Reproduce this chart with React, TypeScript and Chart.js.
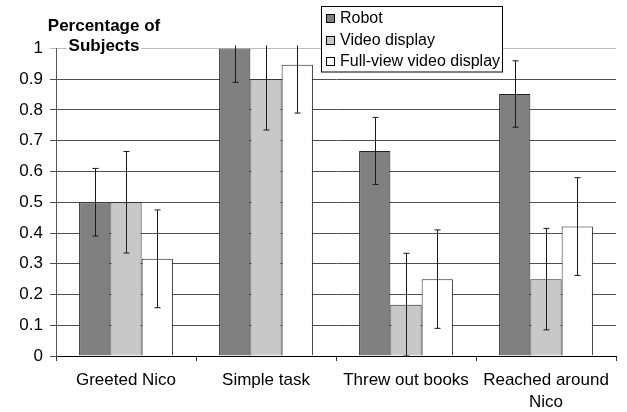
import React, { useEffect, useRef } from "react";
import { Chart, registerables } from "chart.js";

Chart.register(...registerables);

const categories: (string | string[])[] = [
  "Greeted Nico",
  "Simple task",
  "Threw out books",
  ["Reached around", "Nico"],
];
const seriesNames = ["Robot", "Video display", "Full-view video display"];
const robot = [0.5, 1.0, 0.667, 0.852];
const video = [0.5, 0.9, 0.167, 0.25];
const fullView = [0.316, 0.947, 0.25, 0.421];
const robotErr = [0.11, 0.11, 0.109, 0.108];
const videoErr = [0.165, 0.165, 0.167, 0.165];
const fullViewErr = [0.159, 0.157, 0.16, 0.159];
const yTicks = [0, 0.1, 0.2, 0.3, 0.4, 0.5, 0.6, 0.7, 0.8, 0.9, 1];
const yTitle = ["Percentage of", "Subjects"];

const FONT = "'Liberation Sans', Arial, sans-serif";
const fills = ["#808080", "#c8c8c8", "#ffffff"];
const errors = [robotErr, videoErr, fullViewErr];

const errorBarPlugin = {
  id: "errorBars",
  afterDatasetsDraw(chart: any) {
    const ctx = chart.ctx;
    const y = chart.scales.y;
    const area = chart.chartArea;
    ctx.save();
    ctx.beginPath();
    ctx.rect(area.left, area.top - 3, area.right - area.left, area.bottom - area.top + 6);
    ctx.clip();
    ctx.strokeStyle = "#1a1a1a";
    ctx.lineWidth = 1;
    chart.data.datasets.forEach((ds: any, i: number) => {
      const meta = chart.getDatasetMeta(i);
      meta.data.forEach((el: any, j: number) => {
        const v = ds.data[j];
        const e = errors[i][j];
        const x = Math.round(el.x) + 0.5;
        const yHi = y.getPixelForValue(v + e);
        const yLo = y.getPixelForValue(v - e);
        ctx.beginPath();
        ctx.moveTo(x, yHi);
        ctx.lineTo(x, yLo);
        ctx.moveTo(x - 3, yHi);
        ctx.lineTo(x + 3, yHi);
        ctx.moveTo(x - 3, yLo);
        ctx.lineTo(x + 3, yLo);
        ctx.stroke();
      });
    });
    ctx.restore();
  },
  afterDraw(chart: any) {
    const ctx = chart.ctx;
    ctx.save();
    // axis title
    ctx.font = `bold 17px ${FONT}`;
    ctx.textAlign = "center";
    ctx.textBaseline = "middle";
    const tx = 104;
    const w2 = ctx.measureText(yTitle[1]).width;
    ctx.fillStyle = "#ffffff";
    ctx.fillRect(tx - w2 / 2 - 2, 38, w2 + 4, 16);
    ctx.fillStyle = "#000000";
    ctx.fillText(yTitle[0], tx, 26);
    ctx.fillText(yTitle[1], tx, 46);
    // legend
    const lx = 321.5, ly = 6.5, lw = 181, lh = 65.5;
    ctx.fillStyle = "#ffffff";
    ctx.fillRect(lx, ly, lw, lh);
    ctx.strokeStyle = "#000000";
    ctx.lineWidth = 1;
    ctx.strokeRect(lx, ly, lw, lh);
    ctx.font = `16px ${FONT}`;
    ctx.textAlign = "left";
    seriesNames.forEach((name, i) => {
      const cy = 19 + i * 21.5;
      ctx.fillStyle = fills[i];
      ctx.fillRect(326.5, Math.round(cy) - 4.5, 8, 8);
      ctx.strokeStyle = "#000000";
      ctx.strokeRect(326.5, Math.round(cy) - 4.5, 8, 8);
      ctx.fillStyle = "#000000";
      ctx.fillText(name, 340, cy);
    });
    ctx.restore();
  },
};

export default function App() {
  const ref = useRef<HTMLCanvasElement | null>(null);
  useEffect(() => {
    document.body.style.margin = "0";
    if (!ref.current) return;
    const chart = new Chart(ref.current, {
      type: "bar",
      data: {
        labels: categories as any,
        datasets: [robot, video, fullView].map((d, i) => ({
          label: seriesNames[i],
          data: d,
          backgroundColor: fills[i],
          borderColor: "#222222",
          borderWidth: 1,
          borderSkipped: "bottom",
          categoryPercentage: 0.67,
          barPercentage: 1.0,
        })),
      },
      options: {
        animation: false,
        responsive: true,
        maintainAspectRatio: false,
        layout: { padding: { top: 48.5, right: 11, left: 0, bottom: 0 } },
        plugins: { legend: { display: false }, tooltip: { enabled: false } },
        scales: {
          x: {
            afterFit: (s: any) => {
              s.height = 56;
            },
            grid: {
              display: true,
              drawOnChartArea: false,
              drawTicks: true,
              tickLength: 5,
              color: "#333333",
              offset: true,
            },
            border: { display: true, color: "#000000" },
            ticks: {
              color: "#000000",
              padding: 8,
              font: { family: FONT, size: 17, lineHeight: 1.3 },
              maxRotation: 0,
              autoSkip: false,
            },
          },
          y: {
            min: 0,
            max: 1,
            afterFit: (s: any) => {
              s.width = 56;
            },
            afterBuildTicks: (s: any) => {
              s.ticks = yTicks.map((v) => ({ value: v }));
            },
            grid: {
              color: (c: any) => (c.tick && c.tick.value === 1 ? "#bbbbbb" : "#505050"),
              tickLength: 6,
              drawTicks: true,
            },
            border: { display: true, color: "#555555" },
            ticks: {
              color: "#000000",
              padding: 7,
              font: { family: FONT, size: 17 },
              callback: (v: any) => String(Number(Number(v).toFixed(1))),
            },
          },
        },
      },
      plugins: [errorBarPlugin],
    });
    return () => chart.destroy();
  }, []);
  return (
    <div style={{ width: 627, height: 412, position: "relative" }}>
      <canvas ref={ref} />
    </div>
  );
}
